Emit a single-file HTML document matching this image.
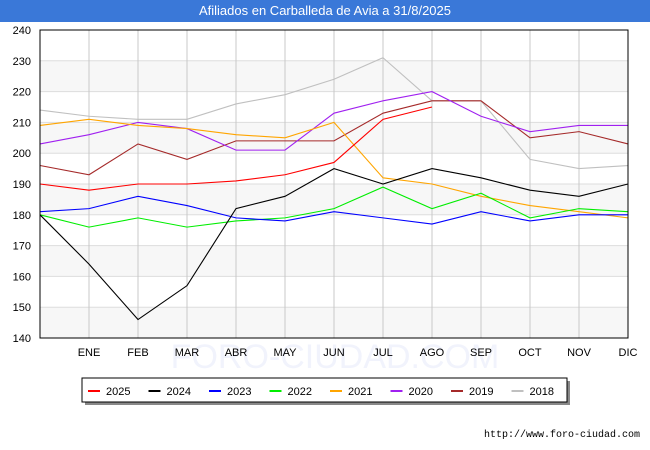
<!DOCTYPE html>
<html><head><meta charset="utf-8"><style>
body{margin:0;width:650px;height:450px;overflow:hidden;background:#fff;font-family:"Liberation Sans",sans-serif}
#title{position:absolute;left:0;top:0;width:650px;height:22px;background:#3a78d8;color:#fff;font-size:13px;line-height:22px;text-align:center}
</style></head><body>
<div id="title">Afiliados en Carballeda de Avia a 31/8/2025</div>
<svg id="c" width="650" height="450" style="position:absolute;left:0;top:0"></svg>
<script>
const months=["","ENE","FEB","MAR","ABR","MAY","JUN","JUL","AGO","SEP","OCT","NOV","DIC"];
const yTicks=[140,150,160,170,180,190,200,210,220,230,240];
const seriesNames=["2025","2024","2023","2022","2021","2020","2019","2018"];
const seriesColors=["#ff0000","#000000","#0000ff","#00ee00","#ffa500","#a020f0","#a52a2a","#c0c0c0"];
const s2025=[190,188,190,190,191,193,197,211,215];
const s2024=[180,164,146,157,182,186,195,190,195,192,188,186,190];
const s2023=[181,182,186,183,179,178,181,179,177,181,178,180,180];
const s2022=[180,176,179,176,178,179,182,189,182,187,179,182,181];
const s2021=[209,211,209,208,206,205,210,192,190,186,183,181,179];
const s2020=[203,206,210,208,201,201,213,217,220,212,207,209,209];
const s2019=[196,193,203,198,204,204,204,213,217,217,205,207,203];
const s2018=[214,212,211,211,216,219,224,231,217,217,198,195,196];
const allSeries=[s2025,s2024,s2023,s2022,s2021,s2020,s2019,s2018];
const L=40,R=628,T=30,B=338;
const x=i=>L+(R-L)*i/12;
const y=v=>B-(v-140)*(B-T)/100;
const svg=document.getElementById('c');
const NS='http://www.w3.org/2000/svg';
function mk(t,a){const e=document.createElementNS(NS,t);for(const k in a)e.setAttribute(k,a[k]);svg.appendChild(e);return e;}
for(let k=0;k<10;k+=2){const r=mk('rect',{x:L,y:y(yTicks[k+1]),width:R-L,height:y(yTicks[k])-y(yTicks[k+1]),fill:'#f7f7f7'});

}
const wm=mk('text',{x:335,y:368,'text-anchor':'middle','font-size':34,fill:'#f1f3fc'});wm.textContent='FORO-CIUDAD.COM';


yTicks.forEach(v=>{const l=mk('line',{x1:L,x2:R,y1:y(v),y2:y(v),stroke:'#dddddd'});


const t=mk('text',{x:L-9,y:y(v)+4,'text-anchor':'end','font-size':11,fill:'#000'});t.textContent=v;

});
months.forEach((m,i)=>{if(i>0){const l=mk('line',{x1:x(i),x2:x(i),y1:T,y2:B,stroke:'#c8c8c8'});


const t=mk('text',{x:x(i),y:356,'text-anchor':'middle','font-size':11,fill:'#000'});t.textContent=m;

}});
for(let s=allSeries.length-1;s>=0;s--){const p=mk('polyline',{points:allSeries[s].map((v,i)=>x(i)+','+y(v)).join(' '),fill:'none',stroke:seriesColors[s],'stroke-width':1.1});

}
const fr=mk('rect',{x:L,y:T,width:R-L,height:B-T,fill:'none',stroke:'#000'});


const sh=mk('rect',{x:85,y:381,width:485,height:24,fill:'#888'});


const lb=mk('rect',{x:82,y:378,width:485,height:24,fill:'#fff',stroke:'#000'});


seriesNames.forEach((n,k)=>{const lx=88+k*60.5;
const l=mk('line',{x1:lx,x2:lx+12,y1:391,y2:391,stroke:seriesColors[k],'stroke-width':2});


const t=mk('text',{x:lx+18,y:395,'font-size':11,fill:'#000'});t.textContent=n;

});
const u=mk('text',{x:640,y:437,'text-anchor':'end','font-size':10,'font-family':'Liberation Mono, monospace',fill:'#000'});u.textContent='http://www.foro-ciudad.com';


</script>
</body></html>
